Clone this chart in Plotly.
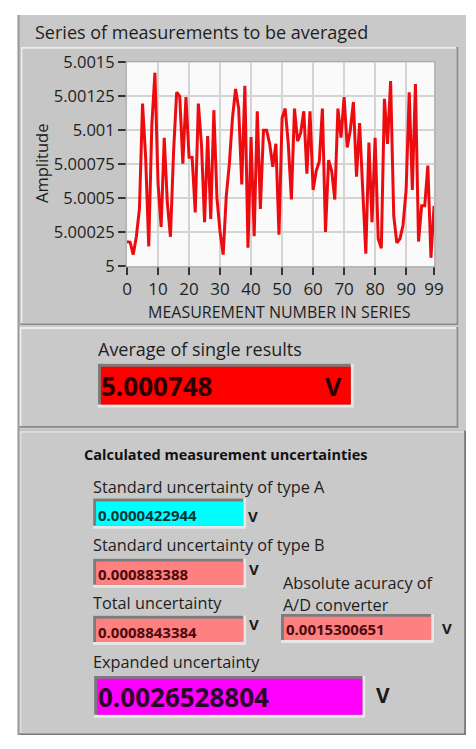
import plotly.graph_objects as go

# ---------------- data ----------------
meas_number = list(range(100))
amplitude = [
    5.000179, 5.000175, 5.000084, 5.000215, 5.000421, 5.001196, 5.000800, 5.000144, 5.001040, 5.001424,
    5.000610, 5.000287, 5.000945, 5.000467, 5.000215, 5.000837, 5.001280, 5.001250, 5.000754, 5.001244,
    5.000802, 5.000800, 5.000395, 5.001196, 5.000897, 5.000323, 5.000957, 5.000347, 5.001148, 5.000500,
    5.000251, 5.000084, 5.000515, 5.000754, 5.001089, 5.001304, 5.001160, 5.000600, 5.001328, 5.000134,
    5.000950, 5.000220, 5.001140, 5.000420, 5.001000, 5.001000, 5.000900, 5.000730, 5.000900, 5.000230,
    5.001090, 5.001160, 5.000900, 5.000490, 5.001160, 5.000920, 5.000980, 5.001140, 5.000680, 5.001140,
    5.000560, 5.000700, 5.000770, 5.001160, 5.000250, 5.000780, 5.000700, 5.000490, 5.001160, 5.000945,
    5.001244, 5.000873, 5.001000, 5.001208, 5.000658, 5.001053, 5.000563, 5.000090, 5.000909, 5.000323,
    5.000945, 5.000200, 5.000130, 5.001232, 5.000900, 5.001363, 5.000370, 5.000170, 5.000200, 5.000300,
    5.000560, 5.001280, 5.000560, 5.001340, 5.000180, 5.000443, 5.000443, 5.000740, 5.000060, 5.000443,
]
x_tick_vals = [0, 10, 20, 30, 40, 50, 60, 70, 80, 90, 99]
y_tick_vals = [5.0, 5.00025, 5.0005, 5.00075, 5.001, 5.00125, 5.0015]
y_tick_text = ["5", "5.00025", "5.0005", "5.00075", "5.001", "5.00125", "5.0015"]

chart_title = "Series of measurements to be averaged"
x_title = "MEASUREMENT NUMBER IN SERIES"
y_title = "Amplitude"

average_label = "Average of single results"
average_value = "5.000748"
section_title = "Calculated measurement uncertainties"
type_a_label = "Standard uncertainty of type A"
type_a_value = "0.0000422944"
type_b_label = "Standard uncertainty of type B"
type_b_value = "0.000883388"
total_label = "Total uncertainty"
total_value = "0.0008843384"
ad_label = ["Absolute acuracy of", "A/D converter"]
ad_value = "0.0015300651"
expanded_label = "Expanded uncertainty"
expanded_value = "0.0026528804"
unit = "V"

# ---------------- layout helpers ----------------
W, H = 476, 749
FONT = "Open Sans"
shapes = []
annotations = []


def px(x):
    return x / W


def py(y):
    return 1 - y / H


def rect(x0, y0, x1, y1, fill, layer="below"):
    shapes.append(dict(type="rect", xref="paper", yref="paper",
                       x0=px(x0), x1=px(x1), y0=py(y1), y1=py(y0),
                       fillcolor=fill, line=dict(width=0), layer=layer))


def raised(x0, y0, x1, y1, fill, b=2, light="#ececec", dark="#8a8a8a"):
    rect(x0, y0, x1, y1, dark)
    rect(x0, y0, x1 - b, y1 - b, light)
    rect(x0 + b, y0 + b, x1 - b, y1 - b, fill)


def sunken(x0, y0, x1, y1, fill, b=3, light="#e6e6e6", dark="#7c7c7c"):
    rect(x0, y0, x1, y1, light)
    rect(x0, y0, x1 - b, y1 - b, dark)
    rect(x0 + b, y0 + b, x1 - b, y1 - b, fill)


def text(x, y, s, size, color="#1e1e1e", bold=False, anchor="left", angle=0):
    if bold:
        s = "<b>" + s + "</b>"
    if anchor == "left":
        x = x - 3  # compensate annotation inner padding
    annotations.append(dict(xref="paper", yref="paper", x=px(x), y=py(y), text=s,
                            showarrow=False, xanchor=anchor, yanchor="middle",
                            textangle=angle,
                            font=dict(family=FONT, size=size, color=color)))


PANEL = "#c9c9c9"

# panel background
rect(13, 3, 476, 746, PANEL)
rect(13, 3, 15, 746, "#9a9a9a")

# graph frame
raised(16, 36, 468, 323, "#c6c6c6")
# plot area background
rect(126, 52, 443, 262, "#fafafa")
shapes.append(dict(type="rect", xref="paper", yref="paper",
                   x0=px(125), x1=px(444), y0=py(263), y1=py(51),
                   line=dict(color="#a8a8a8", width=1), layer="above"))

# middle frame
raised(15, 325, 468, 429, PANEL)
sunken(96, 363, 360, 408, "#ff0000", b=3)

# bottom frame
raised(15, 432, 476, 746, PANEL, light="#dedede", dark="#7a7a7a")
sunken(91, 502, 249, 533, "#00ffff")
sunken(91, 564, 249, 594, "#ff8080")
sunken(91, 623, 249, 653, "#ff8080")
sunken(285, 621, 443, 651, "#ff8080")
sunken(92, 685, 372, 728, "#ff00ff", b=3)

# ---------------- texts ----------------
text(32, 21, chart_title, 18)
text(37, 156, y_title, 16.5, angle=-90, anchor="center")
text(283, 309, x_title, 16, anchor="center")

text(97, 348, average_label, 18)
text(100, 386, average_value, 26, color="#2a0000", bold=True)
text(331, 386, unit, 25, color="#2a0000", bold=True)

text(82, 457, section_title, 14.5, color="#111111", bold=True)
text(92, 490, type_a_label, 16.3)
text(97, 519, type_a_value, 15, color="#063838", bold=True)
text(252, 520, unit, 15, color="#1a1a1a", bold=True)

text(92, 550, type_b_label, 16.3)
text(97, 580, type_b_value, 15, color="#4a0c0c", bold=True)
text(253, 575, unit, 15, color="#1a1a1a", bold=True)

text(288, 589, ad_label[0], 16.3)
text(288, 612, ad_label[1], 16.3)

text(92, 610, total_label, 16.3)
text(97, 640, total_value, 15, color="#4a0c0c", bold=True)
text(253, 631, unit, 15, color="#1a1a1a", bold=True)

text(291, 637, ad_value, 15, color="#4a0c0c", bold=True)
text(452, 635, unit, 15, color="#1a1a1a", bold=True)

text(92, 671, expanded_label, 16.3)
text(97, 707, expanded_value, 26, color="#2a062a", bold=True)
text(384, 705, unit, 21, color="#1a1a1a", bold=True)

# ---------------- figure ----------------
fig = go.Figure()
fig.add_trace(go.Scatter(x=meas_number, y=amplitude, mode="lines",
                         line=dict(color="#ec0c10", width=3),
                         hoverinfo="skip"))

fig.update_layout(
    width=W, height=H,
    margin=dict(l=0, r=0, t=0, b=0),
    paper_bgcolor="white",
    plot_bgcolor="rgba(0,0,0,0)",
    showlegend=False,
    shapes=shapes,
    annotations=annotations,
    xaxis=dict(domain=[px(126), px(443)], range=[0, 99],
               tickvals=x_tick_vals, ticktext=[str(v) for v in x_tick_vals],
               ticks="outside", ticklen=8, tickwidth=1.5, tickcolor="#333333",
               showgrid=True, gridcolor="#d4d4d4", gridwidth=1.5,
               zeroline=False, showline=False,
               tickfont=dict(family=FONT, size=17, color="#1e1e1e")),
    yaxis=dict(domain=[py(262), py(52)], range=[5.0, 5.0015],
               tickvals=y_tick_vals, ticktext=y_tick_text,
               ticks="outside", ticklen=8, tickwidth=1.5, tickcolor="#333333",
               showgrid=True, gridcolor="#d4d4d4", gridwidth=1.5,
               zeroline=False, showline=False,
               tickfont=dict(family=FONT, size=16.5, color="#1e1e1e")),
)

fig.write_html(
    "out.html",
    post_script="document.body.style.margin='0';document.body.style.padding='0';",
)
